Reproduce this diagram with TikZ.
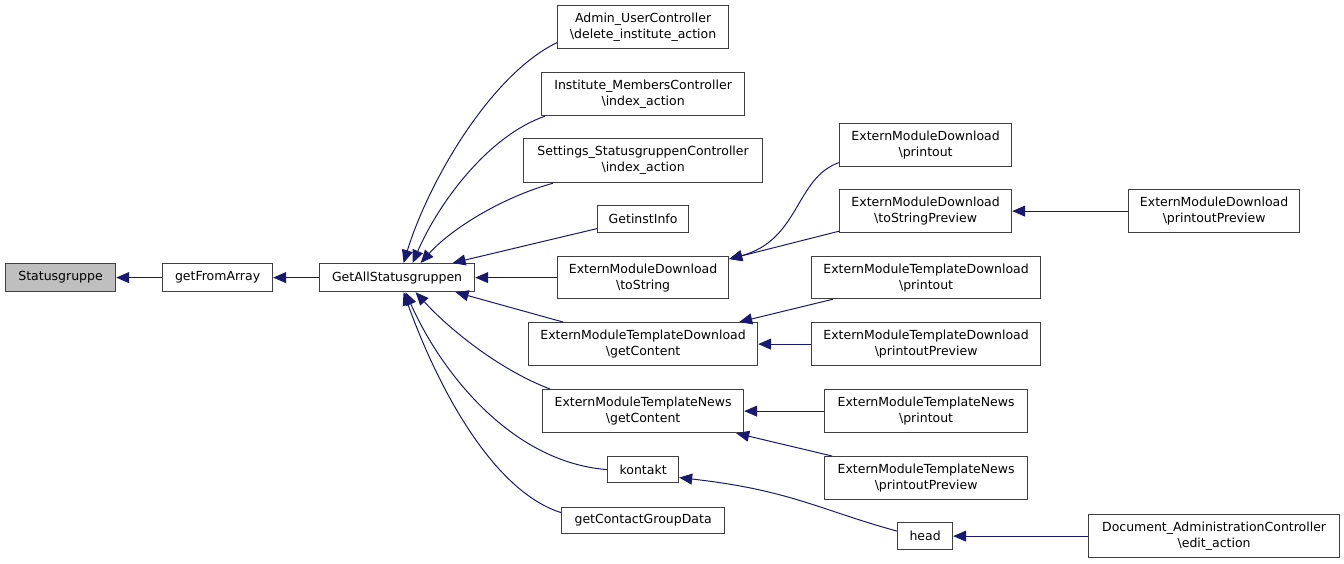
\documentclass[tikz,border=0pt]{standalone}
\usepackage{fontspec}
\setmainfont{DejaVu Sans}
\usetikzlibrary{arrows.meta}
\definecolor{edgeblue}{RGB}{25,25,112}
\definecolor{boxline}{RGB}{64,64,64}
\definecolor{boxgray}{RGB}{191,191,191}
\tikzset{
  fn/.style={draw=boxline, line width=1.2pt, fill=white, inner sep=0pt, align=center,
    font=\fontsize{12.5pt}{16pt}\selectfont, anchor=north west},
  focus/.style={fn, fill=boxgray},
  callarrow/.style={draw=edgeblue, line width=1pt, -{Triangle[length=13pt,width=11pt]}},
}
\newcommand{\bs}{\textbackslash}
\begin{document}
\begin{tikzpicture}[x=1pt,y=-1pt]
\useasboundingbox (0,0) rectangle (1344,563);
% nodes
\node[focus, minimum width=110pt, minimum height=28pt] (sg) at (5,263) {Statusgruppe};
\node[fn, minimum width=110pt, minimum height=28pt] (gfa) at (162,263) {getFromArray};
\node[fn, minimum width=155pt, minimum height=28pt] (gas) at (319,263) {GetAllStatusgruppen};
\node[fn, minimum width=171pt, minimum height=43pt] (admin) at (557,5) {Admin\_UserController\\\bs delete\_institute\_action};
\node[fn, minimum width=203pt, minimum height=43pt] (inst) at (541,72) {Institute\_MembersController\\\bs index\_action};
\node[fn, minimum width=239pt, minimum height=44pt] (sett) at (523,138) {Settings\_StatusgruppenController\\\bs index\_action};
\node[fn, minimum width=91pt, minimum height=27pt] (gii) at (597,205) {GetinstInfo};
\node[fn, minimum width=171pt, minimum height=42pt] (emdts) at (557,256) {ExternModuleDownload\\\bs toString};
\node[fn, minimum width=229pt, minimum height=43pt] (emtdgc) at (528,322) {ExternModuleTemplateDownload\\\bs getContent};
\node[fn, minimum width=201pt, minimum height=43pt] (emtngc) at (542,389) {ExternModuleTemplateNews\\\bs getContent};
\node[fn, minimum width=71pt, minimum height=26pt] (kon) at (607,456) {kontakt};
\node[fn, minimum width=163pt, minimum height=26pt] (gcgd) at (561,507) {getContactGroupData};
\node[fn, minimum width=172pt, minimum height=43pt] (emdpo) at (839,123) {ExternModuleDownload\\\bs printout};
\node[fn, minimum width=172pt, minimum height=43pt] (emdtsp) at (839,189) {ExternModuleDownload\\\bs toStringPreview};
\node[fn, minimum width=171pt, minimum height=43pt] (emdpp) at (1128,189) {ExternModuleDownload\\\bs printoutPreview};
\node[fn, minimum width=229pt, minimum height=42pt] (emtdpo) at (811,256) {ExternModuleTemplateDownload\\\bs printout};
\node[fn, minimum width=229pt, minimum height=43pt] (emtdpp) at (811,322) {ExternModuleTemplateDownload\\\bs printoutPreview};
\node[fn, minimum width=203pt, minimum height=43pt] (emtnpo) at (824,389) {ExternModuleTemplateNews\\\bs printout};
\node[fn, minimum width=203pt, minimum height=43pt] (emtnpp) at (824,456) {ExternModuleTemplateNews\\\bs printoutPreview};
\node[fn, minimum width=55pt, minimum height=27pt] (head) at (897,522) {head};
\node[fn, minimum width=251pt, minimum height=43pt] (doc) at (1088,514) {Document\_AdministrationController\\\bs edit\_action};
% edges
\draw[callarrow] (gfa.west) -- (sg.east);
\draw[callarrow] (gas.west) -- (gfa.east);
\draw[callarrow] ([yshift=-15.5pt]admin.west) .. controls (490,75) and (428,183) .. ([xshift=6.5pt]gas.north);
\draw[callarrow] ([xshift=4pt]inst.south west) .. controls (490,135) and (440,200) .. ([xshift=15.5pt]gas.north);
\draw[callarrow] ([xshift=30pt]sett.south west) .. controls (500,198) and (450,230) .. ([xshift=23.5pt]gas.north);
\draw[callarrow] ([yshift=-9.5pt]gii.west) -- ([xshift=55.5pt]gas.north);
\draw[callarrow] (emdts.west) -- (gas.east);
\draw[callarrow] ([xshift=35pt]emtdgc.north west) -- ([xshift=58.5pt]gas.south);
\draw[callarrow] ([xshift=8pt]emtngc.north west) .. controls (500,370) and (450,330) .. ([xshift=18.5pt]gas.south);
\draw[callarrow] (kon.west) .. controls (510,462) and (440,370) .. ([xshift=8.5pt]gas.south);
\draw[callarrow] ([yshift=8pt]gcgd.west) .. controls (490,490) and (435,380) .. ([xshift=6.5pt]gas.south);
\draw[callarrow] ([yshift=-17.5pt]emdpo.west) .. controls (795,178) and (800,240) .. ([yshift=-3pt]emdts.north east);
\draw[callarrow] ([yshift=2pt]emdtsp.south west) -- ([yshift=-3pt]emdts.north east);
\draw[callarrow] (emdpp.west) -- (emdtsp.east);
\draw[callarrow] ([xshift=22pt]emtdpo.south west) -- ([xshift=-19pt]emtdgc.north east);
\draw[callarrow] (emtdpp.west) -- (emtdgc.east);
\draw[callarrow] (emtnpo.west) -- (emtngc.east);
\draw[callarrow] ([xshift=8pt]emtnpp.north west) -- ([xshift=-8pt]emtngc.south east);
\draw[callarrow] ([yshift=5pt]head.west) .. controls (820,510) and (790,490) .. ([yshift=-8pt]kon.east);
\draw[callarrow] (doc.west) -- (head.east);
\end{tikzpicture}
\end{document}
